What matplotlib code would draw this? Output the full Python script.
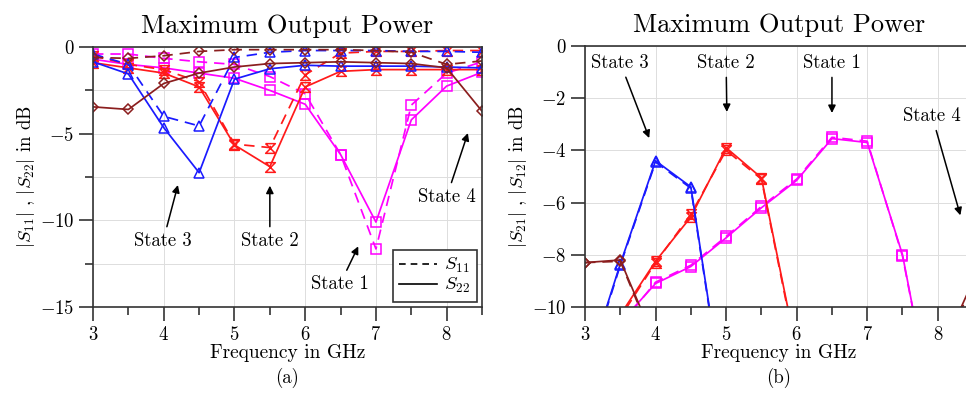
import matplotlib
matplotlib.use("Agg")
import matplotlib.pyplot as plt
from matplotlib.lines import Line2D
from matplotlib.ticker import MultipleLocator

plt.rcParams["font.family"] = "cmr10"
plt.rcParams["mathtext.fontset"] = "cm"
plt.rcParams["axes.formatter.use_mathtext"] = True

# -----------------------------
# Data
# -----------------------------
freq = [3, 3.5, 4, 4.5, 5, 5.5, 6, 6.5, 7, 7.5, 8, 8.5]

# (a) |S11| dashed, |S22| solid
s11_state1 = [-0.4, -0.4, -0.65, -0.85, -1.0, -1.7, -2.7, -6.2, -11.65, -3.35, -1.5, -0.85]
s22_state1 = [-0.7, -1.0, -1.2, -1.5, -1.8, -2.5, -3.3, -6.2, -10.1, -4.2, -2.25, -1.45]
s11_state2 = [-0.5, -1.0, -1.3, -2.0, -5.6, -5.8, -1.6, -0.35, -0.25, -0.25, -0.2, -0.2]
s22_state2 = [-0.9, -1.2, -1.5, -2.3, -5.65, -6.9, -2.3, -1.4, -1.3, -1.3, -1.3, -1.3]
s11_state3 = [-0.4, -1.0, -4.0, -4.55, -0.6, -0.3, -0.2, -0.2, -0.2, -0.25, -0.25, -0.3]
s22_state3 = [-0.85, -1.55, -4.65, -7.25, -1.85, -1.25, -1.05, -1.1, -1.1, -1.1, -1.15, -1.2]
s11_state4 = [-0.6, -0.65, -0.5, -0.25, -0.15, -0.15, -0.15, -0.15, -0.2, -0.3, -1.0, -0.8]
s22_state4 = [-3.45, -3.6, -2.1, -1.5, -1.15, -0.95, -0.9, -0.85, -0.9, -0.95, -1.2, -3.7]

# (b) |S21| solid, |S12| dashed
s21_state1 = [-12.0, -10.6, -9.1, -8.45, -7.35, -6.2, -5.15, -3.55, -3.7, -8.0, -15.0, -20.0]
s12_state1 = [-12.1, -10.7, -9.05, -8.4, -7.3, -6.15, -5.1, -3.5, -3.65, -8.05, -15.0, -20.0]
s21_state2 = [-13.0, -10.3, -8.25, -6.55, -3.9, -5.05, -11.7, -18.0, -20.0, -20.0, -20.0, -20.0]
s12_state2 = [-13.0, -10.4, -8.3, -6.45, -4.0, -5.1, -11.8, -18.0, -20.0, -20.0, -20.0, -20.0]
s21_state3 = [-12.6, -8.35, -4.4, -5.4, -14.2, -20.0, -20.0, -20.0, -20.0, -20.0, -20.0, -20.0]
s12_state3 = [-12.7, -8.4, -4.45, -5.45, -14.3, -20.0, -20.0, -20.0, -20.0, -20.0, -20.0, -20.0]
s21_state4 = [-8.3, -8.2, -11.4, -15.0, -18.0, -20.0, -20.0, -20.0, -20.0, -20.0, -12.0, -9.0]
s12_state4 = [-8.3, -8.25, -11.5, -15.0, -18.0, -20.0, -20.0, -20.0, -20.0, -20.0, -12.1, -9.1]

# -----------------------------
# Styles
# -----------------------------
c_mag = "#ff00ff"
c_red = "#ff1a1a"
c_blue = "#1a1aff"
c_brown = "#8b1e1e"
hourglass = [(-1, 1), (1, 1), (-1, -1), (1, -1), (-1, 1)]

styles = [
    (c_mag, "s", 7),
    (c_red, hourglass, 7),
    (c_blue, "^", 7),
    (c_brown, "D", 5),
]

fig = plt.figure(figsize=(9.66, 3.95), dpi=100)
ax1 = fig.add_axes([0.0963, 0.2228, 0.4027, 0.658])
ax2 = fig.add_axes([0.6056, 0.2228, 0.4017, 0.661])

left_series = [
    (s11_state1, s22_state1),
    (s11_state2, s22_state2),
    (s11_state3, s22_state3),
    (s11_state4, s22_state4),
]
right_series = [
    (s12_state1, s21_state1),
    (s12_state2, s21_state2),
    (s12_state3, s21_state3),
    (s12_state4, s21_state4),
]


def draw(ax, series):
    for (dashed, solid), (col, mk, ms) in zip(series, styles):
        ax.plot(freq, dashed, color=col, ls=(0, (6, 4)), lw=1.25, marker=mk,
                ms=ms, mfc="none", mew=1.1)
        ax.plot(freq, solid, color=col, ls="-", lw=1.25, marker=mk,
                ms=ms, mfc="none", mew=1.1)


draw(ax1, left_series)
draw(ax2, right_series)

# -----------------------------
# Formatting
# -----------------------------
for ax in (ax1, ax2):
    ax.set_xlim(3, 8.5)
    ax.xaxis.set_major_locator(MultipleLocator(1))
    ax.xaxis.set_minor_locator(MultipleLocator(0.5))
    ax.tick_params(which="major", direction="out", length=10, width=1.2,
                   labelsize=13.5, color="#333333", top=False, right=False)
    ax.tick_params(which="minor", direction="out", length=5.5, width=1.2,
                   color="#333333", top=False, right=False)
    for sp in ax.spines.values():
        sp.set_color("#333333")
        sp.set_linewidth(1.2)
    ax.set_xlabel("Frequency in GHz", fontsize=14, labelpad=0)
    ax.set_title("Maximum Output Power", fontsize=19, pad=10)
    ax.set_axisbelow(True)

ax1.set_ylim(-15, 0)
ax1.yaxis.set_major_locator(MultipleLocator(5))
ax1.yaxis.set_minor_locator(MultipleLocator(2.5))
ax1.grid(which="major", color="#dddddd", lw=0.7)
ax1.grid(which="minor", axis="y", color="#dddddd", lw=0.7)
ax1.set_ylabel(r"$|S_{11}|$ , $|S_{22}|$ in dB", fontsize=13.5, labelpad=2)

ax2.set_ylim(-10, 0)
ax2.yaxis.set_major_locator(MultipleLocator(2))
ax2.grid(which="major", color="#dddddd", lw=0.7)
ax2.set_ylabel(r"$|S_{21}|$ , $|S_{12}|$ in dB", fontsize=13.5, labelpad=2)
ax2.spines["right"].set_visible(False)

legend_handles = [
    Line2D([], [], color="k", ls=(0, (4, 3)), lw=1.2),
    Line2D([], [], color="k", ls="-", lw=1.2),
]
leg = ax1.legend(legend_handles, [r"$S_{11}$", r"$S_{22}$"], loc="lower right",
                 bbox_to_anchor=(0.987, 0.019), borderaxespad=0, fancybox=False,
                 framealpha=1, edgecolor="#333333", fontsize=13.5, handlelength=2,
                 labelspacing=0.05, borderpad=0.35, handletextpad=0.4)
leg.get_frame().set_linewidth(1.2)

arrow = dict(arrowstyle="-|>", color="k", lw=1.1, mutation_scale=11,
             shrinkA=2, shrinkB=0)
txt = dict(ha="center", va="center", fontsize=13.5)

ax1.annotate("State 3", xy=(4.2, -7.96), xytext=(3.99, -11.2), arrowprops=arrow, **txt)
ax1.annotate("State 2", xy=(5.5, -8.0), xytext=(5.5, -11.2), arrowprops=arrow, **txt)
ax1.annotate("State 1", xy=(6.75, -11.5), xytext=(6.49, -13.7), arrowprops=arrow, **txt)
ax1.annotate("State 4", xy=(8.3, -4.96), xytext=(8.0, -8.65), arrowprops=arrow, **txt)

ax2.annotate("State 3", xy=(3.91, -3.53), xytext=(3.5, -0.65), arrowprops=arrow, **txt)
ax2.annotate("State 2", xy=(5.01, -2.53), xytext=(5.0, -0.65), arrowprops=arrow, **txt)
ax2.annotate("State 1", xy=(6.5, -2.57), xytext=(6.5, -0.65), arrowprops=arrow, **txt)
ax2.annotate("State 4", xy=(8.32, -6.49), xytext=(7.92, -2.69), arrowprops=arrow, **txt)

fig.text(0.297, 0.043, "(a)", ha="center", va="center", fontsize=13.5)
fig.text(0.806, 0.043, "(b)", ha="center", va="center", fontsize=13.5)

plt.savefig("out.png", dpi=100)
